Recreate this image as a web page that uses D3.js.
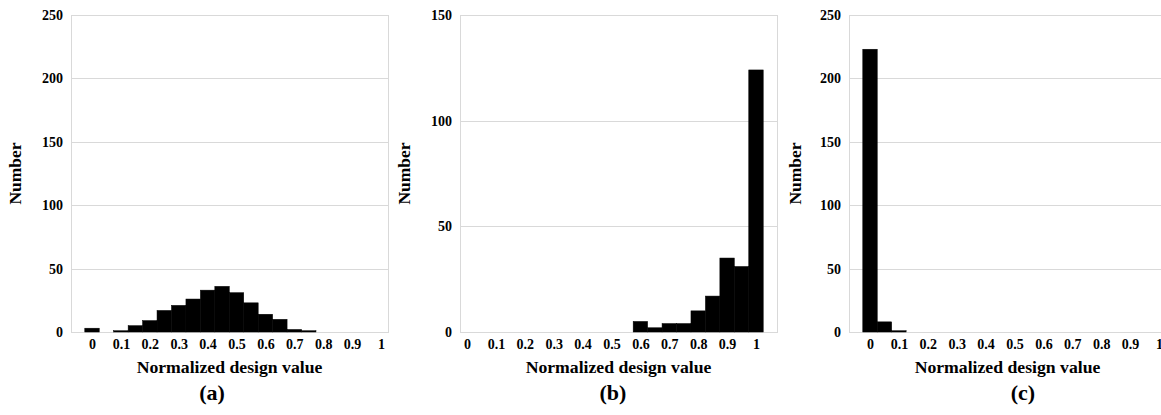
<!DOCTYPE html>
<html>
<head>
<meta charset="utf-8">
<title>Normalized design value histograms</title>
<script src="https://cdn.jsdelivr.net/npm/d3@7/dist/d3.min.js"></script>
<style>
body { margin: 0; background: #fff; }
svg text { font-family: "Liberation Serif", "Times New Roman", serif; font-weight: bold; fill: #000; }
.grid line { stroke: #d9d9d9; stroke-width: 1; shape-rendering: crispEdges; }
.frame { fill: none; stroke: #d9d9d9; stroke-width: 1; shape-rendering: crispEdges; }
</style>
</head>
<body>
<script>
// bin centres (bin width 0.05)
var binCenters = [0, 0.05, 0.1, 0.15, 0.2, 0.25, 0.3, 0.35, 0.4, 0.45, 0.5,
                  0.55, 0.6, 0.65, 0.7, 0.75, 0.8, 0.85, 0.9, 0.95, 1];
var countsA = [3, 0, 1, 5, 9, 17, 21, 26, 33, 36, 31, 23, 14, 10, 2, 1, 0, 0, 0, 0, 0];
var countsB = [0, 0, 0, 0, 0, 0, 0, 0, 0, 0, 0, 0, 5, 2, 4, 4, 10, 17, 35, 31, 124];
var countsC = [223, 8, 1, 0, 0, 0, 0, 0, 0, 0, 0, 0, 0, 0, 0, 0, 0, 0, 0, 0, 0];

var xTickValues = [0, 0.1, 0.2, 0.3, 0.4, 0.5, 0.6, 0.7, 0.8, 0.9, 1];
var xTickLabels = ["0", "0.1", "0.2", "0.3", "0.4", "0.5", "0.6", "0.7", "0.8", "0.9", "1"];
var yTicksA = [0, 50, 100, 150, 200, 250];
var yTicksB = [0, 50, 100, 150];
var yTicksC = [0, 50, 100, 150, 200, 250];
var panelLabels = ["(a)", "(b)", "(c)"];

var binWidth = 0.05;
var plotW = 317, plotH = 317;
var marginTop = 15;

var panels = [
  { left: 71,  counts: countsA, yTicks: yTicksA, xDom: [-0.0727, 1.0242], label: panelLabels[0], labelX: 212 },
  { left: 460, counts: countsB, yTicks: yTicksB, xDom: [-0.0242, 1.0727], label: panelLabels[1], labelX: 613 },
  { left: 849, counts: countsC, yTicks: yTicksC, xDom: [-0.0727, 1.0242], label: panelLabels[2], labelX: 1023 }
];

var svg = d3.select("body").append("svg").attr("width", 1161).attr("height", 415);

panels.forEach(function(p) {
  var g = svg.append("g").attr("transform", "translate(" + p.left + "," + marginTop + ")");

  var x = d3.scaleLinear().domain(p.xDom).range([0, plotW]);
  var y = d3.scaleLinear().domain([0, d3.max(p.yTicks)]).range([plotH, 0]);

  // gridlines + y labels
  var ya = g.append("g").attr("class", "grid")
    .call(d3.axisLeft(y).tickValues(p.yTicks).tickSize(-plotW).tickPadding(8).tickFormat(d3.format("d")));
  ya.select(".domain").remove();
  ya.selectAll("text").attr("font-size", "14px");

  g.append("rect").attr("class", "frame")
    .attr("x", 0.5).attr("y", 0.5).attr("width", plotW).attr("height", plotH - 0.5);

  // bars
  g.append("g").selectAll("rect")
    .data(binCenters.map(function(c, i) { return [c, p.counts[i]]; }).filter(function(d) { return d[1] > 0; }))
    .enter().append("rect")
    .attr("x", function(d) { return x(d[0] - binWidth / 2); })
    .attr("width", function(d) { return x(d[0] + binWidth / 2) - x(d[0] - binWidth / 2); })
    .attr("y", function(d) { return y(d[1]); })
    .attr("height", function(d) { return plotH - y(d[1]); })
    .attr("fill", "#000")
    .attr("stroke", "#000")
    .attr("stroke-width", 0.5);

  // x labels
  var xa = g.append("g").attr("transform", "translate(0," + plotH + ")")
    .call(d3.axisBottom(x).tickValues(xTickValues).tickSize(0).tickPadding(7)
      .tickFormat(function(d, i) { return xTickLabels[i]; }));
  xa.select(".domain").remove();
  xa.selectAll("text").attr("font-size", "14px");

  g.append("text")
    .attr("x", plotW / 2).attr("y", plotH + 41)
    .attr("text-anchor", "middle").attr("font-size", "17.7px")
    .text("Normalized design value");

  g.append("text")
    .attr("transform", "rotate(-90)")
    .attr("x", -plotH / 2).attr("y", p.left === 849 ? -48 : -50)
    .attr("text-anchor", "middle").attr("font-size", "17.5px")
    .text("Number");

  svg.append("text")
    .attr("x", p.labelX).attr("y", 400)
    .attr("text-anchor", "middle").attr("font-size", "22px")
    .text(p.label);
});
</script>
</body>
</html>
